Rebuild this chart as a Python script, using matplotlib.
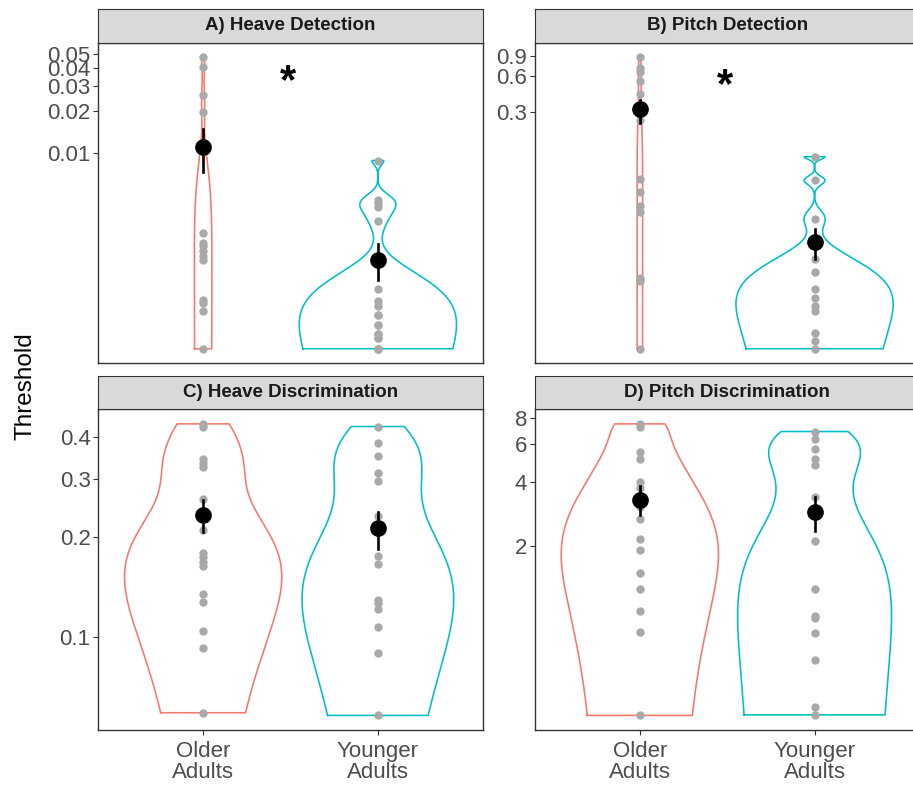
import numpy as np
import matplotlib
matplotlib.use("Agg")
import matplotlib.pyplot as plt
from matplotlib.ticker import FixedLocator, FixedFormatter, NullLocator

plt.rcParams['font.family'] = ['Liberation Sans', 'DejaVu Sans']

groups = ["Older\nAdults", "Younger\nAdults"]
colors = ["#F8766D", "#00BFC4"]
titles = ["A) Heave Detection", "B) Pitch Detection",
          "C) Heave Discrimination", "D) Pitch Discrimination"]

# thresholds (some points overlap near the bottom)
heave_det_older = [0.0477, 0.0404, 0.0258, 0.0197, 0.00272, 0.00231, 0.00219, 0.00202,
                   0.00188, 0.00176, 0.00092, 0.000873, 0.00076, 0.000413]
heave_det_younger = [0.00887, 0.00468, 0.00444, 0.00416, 0.00329, 0.001096, 0.000895,
                     0.000826, 0.00071, 0.00071, 0.000612, 0.000612, 0.000521, 0.000521,
                     0.000488, 0.000488, 0.000413, 0.000413, 0.000413]
pitch_det_older = [0.873, 0.703, 0.650, 0.552, 0.427, 0.257, 0.0807, 0.0621, 0.0479,
                   0.0421, 0.0117, 0.0109, 0.00292]
pitch_det_younger = [0.125, 0.0785, 0.0370, 0.0169, 0.0130, 0.0093, 0.0079, 0.00671,
                     0.0061, 0.0040, 0.00339, 0.00292]
heave_dis_older = [0.439, 0.431, 0.344, 0.334, 0.325, 0.261, 0.211, 0.179, 0.174, 0.169,
                   0.164, 0.135, 0.128, 0.1044, 0.0931, 0.0593]
heave_dis_younger = [0.431, 0.385, 0.351, 0.313, 0.296, 0.232, 0.176, 0.166, 0.1295,
                     0.1265, 0.122, 0.1076, 0.0895, 0.0582]
pitch_dis_older = [7.47, 7.26, 5.55, 5.11, 3.98, 3.75, 3.05, 2.68, 2.17, 1.93, 1.50,
                   1.26, 0.995, 0.80, 0.325]
pitch_dis_younger = [6.88, 6.36, 5.69, 5.11, 4.81, 3.42, 2.13, 1.26, 0.95, 0.927, 0.789,
                     0.588, 0.356, 0.327]

# group means with standard-error bars (older, younger)
means = [[0.0111, 0.00176], [0.316, 0.0236], [0.233, 0.213], [3.30, 2.89]]
se_low = [[0.0073, 0.00126], [0.241, 0.0170], [0.207, 0.185], [2.81, 2.37]]
se_high = [[0.0148, 0.00229], [0.380, 0.0305], [0.259, 0.239], [3.81, 3.42]]

yticks = [[0.01, 0.02, 0.03, 0.04, 0.05], [0.3, 0.6, 0.9],
          [0.1, 0.2, 0.3, 0.4], [2, 4, 6, 8]]
ytick_labels = [["0.01", "0.02", "0.03", "0.04", "0.05"], ["0.3", "0.6", "0.9"],
                ["0.1", "0.2", "0.3", "0.4"], ["2", "4", "6", "8"]]
star_y = [0.0319, 0.495, None, None]

data = [[heave_det_older, heave_det_younger], [pitch_det_older, pitch_det_younger],
        [heave_dis_older, heave_dis_younger], [pitch_dis_older, pitch_dis_younger]]


def kde(vals, n=512):
    # gaussian density, nrd0 bandwidth, trimmed to the data range
    v = np.asarray(vals, float)
    q75, q25 = np.percentile(v, [75, 25])
    lo = min(v.std(ddof=1), (q75 - q25) / 1.34)
    bw = 0.9 * lo * len(v) ** -0.2
    grid = np.linspace(v.min(), v.max(), n)
    d = np.exp(-0.5 * ((grid[:, None] - v[None, :]) / bw) ** 2).sum(1)
    return grid, d / (len(v) * bw * np.sqrt(2 * np.pi))


W, H = 913, 785
fig = plt.figure(figsize=(W / 100, H / 100), dpi=100)


def px_axes(l, t, r, b):
    return fig.add_axes([l / W, 1 - b / H, (r - l) / W, (b - t) / H])


boxes = [(98.3, 42.7, 482.7, 363.3), (535, 42.7, 919.4, 363.3),
         (98.3, 409.3, 482.7, 730), (535, 409.3, 919.4, 730)]
strip_h = 33.6

for i, (l, t, r, b) in enumerate(boxes):
    ax = px_axes(l, t, r, b)
    dens = [kde(g) for g in data[i]]
    dmax = max(d.max() for _, d in dens)
    for j, (grid, d) in enumerate(dens):
        pos = j + 1
        hw = d / dmax * 0.45
        xs = np.concatenate([pos - hw, (pos + hw)[::-1], [pos - hw[0]]])
        ys = np.concatenate([grid, grid[::-1], [grid[0]]])
        ax.plot(xs, ys, color=colors[j], lw=1.15, zorder=2)
        ax.plot(np.full(len(data[i][j]), pos), data[i][j], 'o', color="#A9A9A9",
                ms=6, mec='none', zorder=3)
        ax.plot([pos, pos], [se_low[i][j], se_high[i][j]], color='black', lw=1.9, zorder=4)
        ax.plot(pos, means[i][j], 'o', color='black', ms=11, zorder=5)
    if star_y[i] is not None:
        ax.text(1.485, star_y[i], "*", fontsize=30, ha='center', va='center', fontweight='bold')

    ax.set_yscale('log')
    allv = np.log10(np.concatenate(data[i]))
    span = allv.max() - allv.min()
    ax.set_ylim(10 ** (allv.min() - 0.05 * span), 10 ** (allv.max() + 0.05 * span))
    ax.yaxis.set_major_locator(FixedLocator(yticks[i]))
    ax.yaxis.set_major_formatter(FixedFormatter(ytick_labels[i]))
    ax.yaxis.set_minor_locator(NullLocator())
    ax.set_xlim(0.4, 2.6)
    ax.set_xticks([1, 2])
    ax.tick_params(colors="#333333", labelcolor="#4D4D4D", labelsize=16,
                   length=3.6, width=0.8)
    ax.tick_params(axis='y', pad=2)
    if i >= 2:
        ax.set_xticklabels(groups, linespacing=1.05)
        ax.tick_params(axis='x', pad=4)
    else:
        ax.set_xticklabels([])
        ax.tick_params(axis='x', length=0)
    for s in ax.spines.values():
        s.set_color("#333333")
        s.set_linewidth(1.0)

    sax = px_axes(l, t - strip_h, r, t)
    sax.set_facecolor("#D9D9D9")
    sax.set_xticks([])
    sax.set_yticks([])
    for s in sax.spines.values():
        s.set_color("#333333")
        s.set_linewidth(0.8)
    sax.text(0.5 * (482.7 - 98.3) / (r - l), 0.5, titles[i], transform=sax.transAxes,
             ha='center', va='center', fontsize=13.5, fontweight='bold', color="#1A1A1A")

fig.text(25 / W, 1 - 386 / H, "Threshold", rotation=90, ha='center', va='center',
         fontsize=17.5, color='black')

fig.savefig("out.png", dpi=100)
